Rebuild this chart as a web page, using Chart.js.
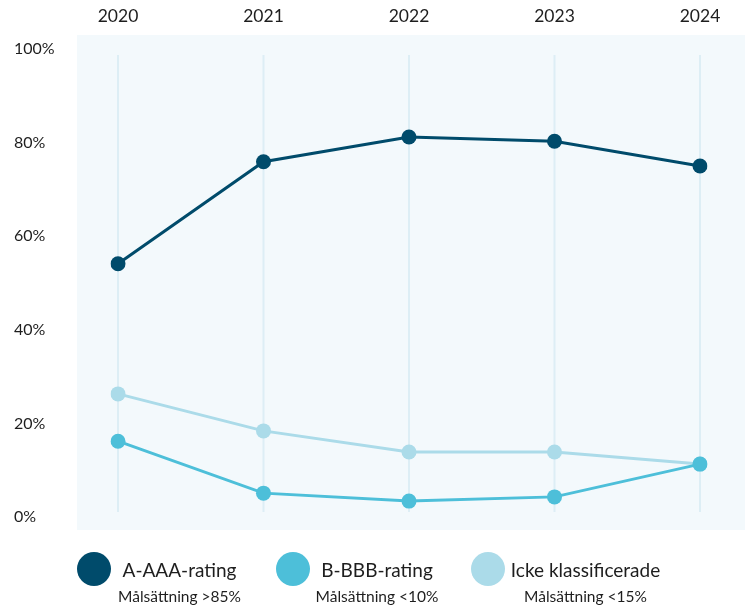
<!DOCTYPE html>
<html>
<head>
<meta charset="utf-8">
<script src="https://cdn.jsdelivr.net/npm/chart.js@4/dist/chart.umd.min.js"></script>
<style>
  html, body { margin: 0; padding: 0; background: #ffffff; }
  #wrap { position: relative; width: 745px; height: 608px; font-family: Lato, "Open Sans", sans-serif; color: #1e1e1e; }
  #chart { position: absolute; left: 0; top: 0; }
  .dot { position: absolute; width: 34px; height: 34px; border-radius: 50%; }
  .lab { position: absolute; transform: translateX(-50%); text-align: center; white-space: nowrap; }
  .lab .t { font-size: 19px; line-height: 22px; }
  .lab .s { font-size: 15.5px; line-height: 18px; margin-top: 6px; }
</style>
</head>
<body>
<div id="wrap">
  <canvas id="chart" width="745" height="608"></canvas>
  <div id="legend"></div>
</div>
<script>
const years = ['2020', '2021', '2022', '2023', '2024'];
const seriesNames = ['A-AAA-rating', 'B-BBB-rating', 'Icke klassificerade'];
const seriesTargets = ['Målsättning >85%', 'Målsättning <10%', 'Målsättning <15%'];
const aaa = [54.1, 75.9, 81.2, 80.3, 75.0];
const bbb = [16.2, 5.1, 3.4, 4.3, 11.3];
const unrated = [26.3, 18.4, 13.9, 13.9, 11.3];
const yTicks = [0, 20, 40, 60, 80, 100];
const colors = ['#004b6b', '#4dbfd9', '#abdbe9'];

const bgPlugin = {
  id: 'bg',
  beforeDraw(chart) {
    const { ctx, chartArea } = chart;
    ctx.save();
    ctx.fillStyle = '#f3f9fc';
    ctx.fillRect(chartArea.left - 41, chartArea.top - 14, chart.width - (chartArea.left - 41), (chartArea.bottom + 13) - (chartArea.top - 14));
    ctx.restore();
  },
  beforeDatasetsDraw(chart) {
    const { ctx, chartArea } = chart;
    const xs = chart.scales.x;
    ctx.save();
    ctx.strokeStyle = '#ddeef5';
    ctx.lineWidth = 2;
    for (let i = 0; i < xs.ticks.length; i++) {
      const x = xs.getPixelForTick(i);
      ctx.beginPath();
      ctx.moveTo(x, chartArea.top + 6);
      ctx.lineTo(x, chartArea.bottom - 5);
      ctx.stroke();
    }
    ctx.restore();
  }
};

const data = [aaa, bbb, unrated];
new Chart(document.getElementById('chart'), {
  type: 'line',
  data: {
    labels: years,
    datasets: data.map((d, i) => ({
      label: seriesNames[i],
      data: d,
      borderColor: colors[i],
      backgroundColor: colors[i],
      pointBackgroundColor: colors[i],
      pointBorderColor: colors[i],
      pointBorderWidth: 0,
      pointRadius: 7.5,
      borderWidth: 3,
      tension: 0,
      fill: false
    }))
  },
  options: {
    responsive: false,
    animation: false,
    layout: { padding: { left: 14, right: 45, top: 0, bottom: 91 } },
    plugins: { legend: { display: false }, tooltip: { enabled: false } },
    scales: {
      x: {
        position: 'top',
        offset: false,
        grid: { display: false, drawTicks: false },
        border: { display: false },
        ticks: { padding: 22, color: '#1e1e1e', font: { family: 'Lato', size: 17.5 } },
        afterFit(scale) { scale.height = 49; }
      },
      y: {
        min: 0, max: 100,
        afterBuildTicks(scale) { scale.ticks = yTicks.map(v => ({ value: v })); },
        grid: { display: false, drawTicks: false },
        border: { display: false },
        ticks: { crossAlign: 'far', padding: 0, color: '#1e1e1e', font: { family: 'Lato', size: 16 }, callback: v => v + '%' },
        afterFit(scale) { scale.width = 104; }
      }
    }
  },
  plugins: [bgPlugin]
});

// Legend
const legend = document.getElementById('legend');
const dotX = [94, 293, 488];
const labX = [179.5, 377, 585.5];
seriesNames.forEach((n, i) => {
  const d = document.createElement('div');
  d.className = 'dot';
  d.style.left = (dotX[i] - 17) + 'px';
  d.style.top = (569 - 17) + 'px';
  d.style.background = colors[i];
  legend.appendChild(d);
  const l = document.createElement('div');
  l.className = 'lab';
  l.style.left = labX[i] + 'px';
  l.style.top = '559px';
  l.innerHTML = '<div class="t">' + n + '</div><div class="s">' + seriesTargets[i] + '</div>';
  legend.appendChild(l);
});
</script>
</body>
</html>
